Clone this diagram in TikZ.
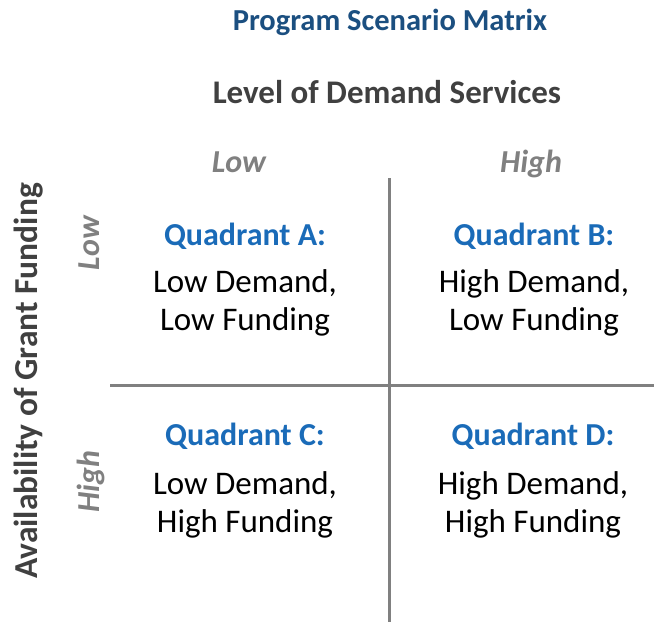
\documentclass[tikz,border=0pt]{standalone}
\usepackage{fontspec}
\setmainfont{Carlito}
\definecolor{titleblue}{HTML}{1B4F80}
\definecolor{quadblue}{HTML}{1A6BB8}
\definecolor{darkhead}{HTML}{404040}
\definecolor{midgray}{HTML}{808080}
\begin{document}
\begin{tikzpicture}[x=1pt,y=-1pt,
  every node/.style={inner sep=0pt},
  title/.style={anchor=base,font=\fontsize{30.5}{36}\selectfont\bfseries,text=titleblue},
  axishead/.style={anchor=base,font=\fontsize{33}{40}\selectfont\bfseries,text=darkhead},
  yaxishead/.style={anchor=base,font=\fontsize{33.5}{40}\selectfont\bfseries,text=darkhead},
  levellabel/.style={anchor=base,font=\fontsize{32}{38}\selectfont\bfseries\itshape,text=midgray},
  quadtitle/.style={anchor=base,font=\fontsize{32}{38}\selectfont\bfseries,text=quadblue},
  quadbody/.style={anchor=base,font=\fontsize{33}{40}\selectfont,text=black},
  divider/.style={draw=midgray,line width=3pt}]
\useasboundingbox (0,0) rectangle (654,622);
% titles
\node[title] (ttl) at (390,30) {Program Scenario Matrix};
\node[axishead] (xhead) at (387,103) {Level of Demand Services};
\node[yaxishead,rotate=90] (yhead) at (37,381) {Availability of Grant Funding};
% level labels
\node[levellabel] (xlow) at (239,172) {Low};
\node[levellabel] (xhigh) at (531,172) {High};
\node[levellabel,rotate=90] (ylow) at (99,243) {Low};
\node[levellabel,rotate=90] (yhigh) at (99,482) {High};
% dividers
\coordinate (vtop) at (389,178);
\coordinate (vbot) at (389,622);
\coordinate (hleft) at (110,385);
\coordinate (hright) at (654,385);
\draw[divider] (vtop) -- (vbot);
\draw[divider] (hleft) -- (hright);
% quadrant A
\node[quadtitle] (qa) at (245,245) {Quadrant A:};
\node[quadbody] (qa1) at (245,292) {Low Demand,};
\node[quadbody] (qa2) at (245,330) {Low Funding};
% quadrant B
\node[quadtitle] (qb) at (534,245) {Quadrant B:};
\node[quadbody] (qb1) at (534,292) {High Demand,};
\node[quadbody] (qb2) at (534,330) {Low Funding};
% quadrant C
\node[quadtitle] (qc) at (245,445) {Quadrant C:};
\node[quadbody] (qc1) at (245,494) {Low Demand,};
\node[quadbody] (qc2) at (245,532) {High Funding};
% quadrant D
\node[quadtitle] (qd) at (533,445) {Quadrant D:};
\node[quadbody] (qd1) at (533,494) {High Demand,};
\node[quadbody] (qd2) at (533,532) {High Funding};
\end{tikzpicture}
\end{document}
